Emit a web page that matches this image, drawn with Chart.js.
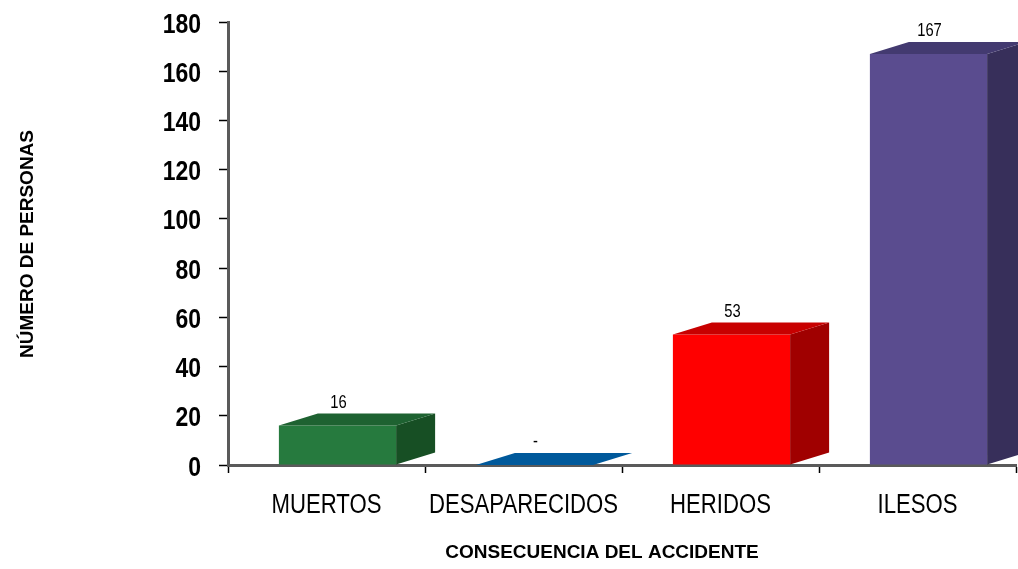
<!DOCTYPE html>
<html>
<head>
<meta charset="utf-8">
<script src="https://cdn.jsdelivr.net/npm/chart.js@4/dist/chart.umd.min.js"></script>
<style>
  body { margin: 0; background: #fff; }
  #wrap { width: 1018px; height: 569px; position: relative; }
</style>
</head>
<body>
<div id="wrap"><canvas id="chart_canvas"></canvas></div>
<script>
const categories = ["MUERTOS", "DESAPARECIDOS", "HERIDOS", "ILESOS"]
const personas = [16, 0, 53, 167]
const y_ticks = [0, 20, 40, 60, 80, 100, 120, 140, 160, 180]

const x_title = "CONSECUENCIA DEL ACCIDENTE"
const y_title = "NÚMERO DE PERSONAS"

// front / side / top colours for each column
const front_colors = ["#267a3e", "#00599b", "#ff0000", "#5a4c8f"]
const side_colors = ["#174f24", "#004b84", "#a00000", "#372f5a"]
const top_colors = ["#1e6231", "#00599b", "#c80000", "#433a70"]

const SANS = "'Liberation Sans', Arial, sans-serif"
const NARROW = 0.82  // no narrow face installed, squeeze the normal one

const SHIFT = 11   // front face sits a bit right of the category centre
const DX = 39      // depth of the columns
const DY = 12

function narrow_text(ctx, text, x, y, font, align) {
  ctx.save()
  ctx.font = font
  ctx.textAlign = align
  ctx.textBaseline = "alphabetic"
  ctx.fillStyle = "#000"
  ctx.translate(x, y)
  ctx.scale(NARROW, 1)
  ctx.fillText(text, 0, 0)
  ctx.restore()
}

const bar3d = {
  id: "bar3d",
  beforeDatasetsDraw(chart) {
    chart.ctx.save()
    chart.ctx.translate(SHIFT, 0)
  },
  afterDatasetsDraw(chart) {
    const ctx = chart.ctx
    const meta = chart.getDatasetMeta(0)
    meta.data.forEach((bar, i) => {
      const { x, y, base, width } = bar.getProps(["x", "y", "base", "width"], true)
      const l = x - width / 2
      const r = x + width / 2

      ctx.fillStyle = side_colors[i]
      ctx.beginPath()
      ctx.moveTo(r, y)
      ctx.lineTo(r + DX, y - DY)
      ctx.lineTo(r + DX, base - DY)
      ctx.lineTo(r, base)
      ctx.closePath()
      ctx.fill()

      ctx.fillStyle = top_colors[i]
      ctx.beginPath()
      ctx.moveTo(l, y)
      ctx.lineTo(l + DX, y - DY)
      ctx.lineTo(r + DX, y - DY)
      ctx.lineTo(r, y)
      ctx.closePath()
      ctx.fill()

      const v = personas[i]
      narrow_text(ctx, v === 0 ? "-" : String(v), x + 1, y - DY - 6, "18px " + SANS, "center")
    })
    ctx.restore()
  }
}

// tick labels and axis titles
const labels = {
  id: "labels",
  afterDraw(chart) {
    const ctx = chart.ctx
    const xs = chart.scales.x
    const ys = chart.scales.y
    categories.forEach((c, i) => {
      narrow_text(ctx, c, xs.getPixelForTick(i), 513, "27px " + SANS, "center")
    })
    y_ticks.forEach((v) => {
      narrow_text(ctx, String(v), 201, ys.getPixelForValue(v) + 10.5, "bold 28px " + SANS, "right")
    })

    ctx.save()
    ctx.fillStyle = "#000"
    ctx.font = "bold 19px " + SANS
    ctx.textAlign = "center"
    ctx.textBaseline = "alphabetic"
    ctx.fillText(x_title, 602, 558)
    ctx.translate(33, 244)
    ctx.rotate(-Math.PI / 2)
    ctx.fillText(y_title, 0, 0)
    ctx.restore()
  }
}

const config = {
  type: "bar",
  data: {
    labels: categories,
    datasets: [
      {
        label: "personas",
        data: personas,
        backgroundColor: front_colors,
        borderWidth: 0,
        categoryPercentage: 1,
        barPercentage: 0.595,
      },
    ],
  },
  options: {
    responsive: true,
    maintainAspectRatio: false,
    animation: false,
    layout: { padding: { top: 22, right: 2, left: 0, bottom: 0 } },
    plugins: {
      legend: { display: false },
      tooltip: { enabled: false },
    },
    scales: {
      x: {
        afterFit: (scale) => { scale.height = 104 },
        grid: { drawOnChartArea: false, tickLength: 8, tickColor: "#000", tickWidth: 1.5 },
        border: { color: "#5a5a5a", width: 3 },
        ticks: { display: false, autoSkip: false },
      },
      y: {
        min: 0,
        max: 180,
        afterFit: (scale) => { scale.width = 228 },
        afterBuildTicks: (scale) => { scale.ticks = y_ticks.map(v => ({ value: v })) },
        grid: { drawOnChartArea: false, tickLength: 9, tickColor: "#000", tickWidth: 1.5 },
        border: { color: "#5a5a5a", width: 3 },
        ticks: { display: false },
      },
    },
  },
  plugins: [bar3d, labels],
}

window.addEventListener("DOMContentLoaded", () => {
  new Chart(document.getElementById("chart_canvas").getContext("2d"), config)
})
</script>
</body>
</html>
